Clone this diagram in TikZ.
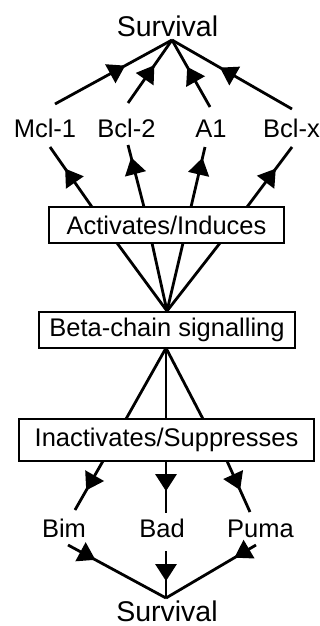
\documentclass[tikz,border=0pt]{standalone}
\usepackage{fontspec}
\setmainfont{Liberation Sans}
\usetikzlibrary{arrows.meta,decorations.markings}
\begin{document}
\begin{tikzpicture}[x=1pt,y=-1pt,line width=2.8pt,
  lbl/.style={inner sep=0pt,font=\fontsize{25.5}{30}\selectfont},
  sv/.style={inner sep=0pt,font=\fontsize{28.5}{32}\selectfont},
  bx/.style={draw,line width=2.8pt,inner sep=0pt,font=\fontsize{25.5}{30}\selectfont},
  tri/.style={postaction={decorate,decoration={markings,mark=at position #1 with {\arrow{Triangle[length=17pt,width=21pt]}}}}}]
\useasboundingbox (0,0) rectangle (320,626);
% nodes
\node[sv,anchor=base] (surv1) at (167.5,36.5) {Survival};
\node[lbl,anchor=base] (mcl) at (45,137) {Mcl-1};
\node[lbl,anchor=base] (bcl2) at (126.5,137) {Bcl-2};
\node[lbl,anchor=base] (a1) at (211,137) {A1};
\node[lbl,anchor=base] (bclx) at (291.5,137) {Bcl-x};
\node[bx,minimum width=235pt,minimum height=36pt] (act) at (166.5,225) {Activates/Induces};
\node[bx,minimum width=256pt,minimum height=36pt] (beta) at (167,330) {Beta-chain signalling};
\node[bx,minimum width=295pt,minimum height=42pt] (inact) at (166.5,440) {Inactivates/Suppresses};
\node[lbl,anchor=base] (bim) at (64,537) {Bim};
\node[lbl,anchor=base] (bad) at (162,537) {Bad};
\node[lbl,anchor=base] (puma) at (260.5,537) {Puma};
\node[sv,anchor=base] (surv2) at (167,621) {Survival};
% coordinates
\coordinate (ct) at (172,40);
\coordinate (mclT) at (55,104);
\coordinate (bcl2T) at (128,103);
\coordinate (a1T) at (210,107);
\coordinate (bclxT) at (292,109);
\coordinate (mclB) at (50,147);
\coordinate (bcl2B) at (128,145);
\coordinate (a1B) at (205,147);
\coordinate (bclxB) at (292,147);
\coordinate (actT1) at (92,207);
\coordinate (actT2) at (144,207);
\coordinate (actT3) at (191,207);
\coordinate (actT4) at (247,207);
\coordinate (actB1) at (117,243);
\coordinate (actB2) at (152,243);
\coordinate (actB3) at (183,243);
\coordinate (actB4) at (220,243);
\coordinate (betaT) at (167,311);
\coordinate (betaB) at (166,348);
\coordinate (inT1) at (126,419);
\coordinate (inT2) at (166,419);
\coordinate (inT3) at (203,419);
\coordinate (inB1) at (103,461);
\coordinate (inB2) at (166,461);
\coordinate (inB3) at (227,461);
\coordinate (bimT) at (75,510);
\coordinate (badT) at (166,513);
\coordinate (pumaT) at (250,512);
\coordinate (bimB) at (68,545);
\coordinate (badB) at (166,551);
\coordinate (pumaB) at (256,545);
\coordinate (cs) at (166,598);
% top fan
\draw[tri=0.6] (mclT) -- (ct);
\draw[tri=0.6] (bcl2T) -- (ct);
\draw[tri=0.6] (a1T) -- (ct);
\draw[tri=0.6] (bclxT) -- (ct);
% activates to labels
\draw[tri=0.64] (actT1) -- (mclB);
\draw[tri=0.8] (actT2) -- (bcl2B);
\draw[tri=0.82] (actT3) -- (a1B);
\draw[tri=0.64] (actT4) -- (bclxB);
% beta to activates
\draw (betaT) -- (actB1);
\draw (betaT) -- (actB2);
\draw (betaT) -- (actB3);
\draw (betaT) -- (actB4);
% beta to inactivates
\draw (betaB) -- (inT1);
\draw (betaB) -- (inT2);
\draw (betaB) -- (inT3);
% inactivates to labels
\draw[tri=0.6] (inB1) -- (bimT);
\draw[tri=0.58] (inB2) -- (badT);
\draw[tri=0.57] (inB3) -- (pumaT);
% bottom
\draw[tri=0.28] (bimB) -- (cs);
\draw[tri=0.64] (badB) -- (cs);
\draw[tri=0.24] (pumaB) -- (cs);
\end{tikzpicture}
\end{document}
